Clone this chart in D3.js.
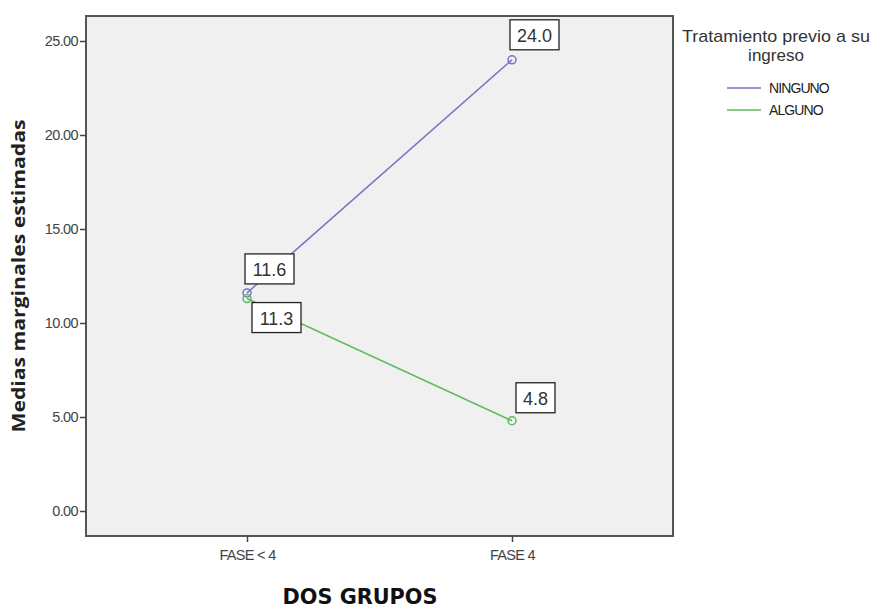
<!DOCTYPE html>
<html><head><meta charset="utf-8">
<script src="https://cdn.jsdelivr.net/npm/d3@7"></script>
<style>body{margin:0;background:#fff;font-family:Arial,"Liberation Sans",sans-serif;}</style>
</head><body>
<svg id="c" width="883" height="612"></svg>
<script>
const categories = ["FASE < 4", "FASE 4"];
const seriesNames = ["NINGUNO", "ALGUNO"];
const ninguno = [11.6, 24.0];
const alguno = [11.3, 4.8];
const yTicks = [0, 5, 10, 15, 20, 25];
const colors = ["#7676c4", "#5cba5c"];

const svg = d3.select("#c");
const L = 86, R = 673, T = 16, B = 536;
const x = d3.scalePoint().domain(categories).range([247, 512]);
const y = d3.scaleLinear().domain([0, 25]).range([511, 41]);

svg.append("rect").attr("x", L).attr("y", T).attr("width", R - L).attr("height", B - T)
  .attr("fill", "#f0f0f0").attr("stroke", "#555").attr("stroke-width", 2);

const ya = svg.append("g").attr("transform", `translate(${L},0)`)
  .call(d3.axisLeft(y).tickValues(yTicks).tickFormat(d3.format(".2f")).tickSize(6).tickPadding(2));
ya.select(".domain").remove();
ya.selectAll("line").attr("stroke", "#444").attr("stroke-width", 1.5);
ya.selectAll("text").attr("font-size", 14.5).attr("fill", "#444").attr("letter-spacing", -0.6)
  .attr("font-family", "Arial, Liberation Sans, sans-serif");

const xa = svg.append("g").attr("transform", `translate(0,${B})`)
  .call(d3.axisBottom(x).tickSize(6).tickPadding(8));
xa.select(".domain").remove();
xa.selectAll("line").attr("stroke", "#444").attr("stroke-width", 1.5);
xa.selectAll("text").attr("font-size", 14.5).attr("fill", "#444").attr("letter-spacing", -0.7)
  .attr("font-family", "Arial, Liberation Sans, sans-serif");

svg.append("text").attr("x", 360).attr("y", 604).attr("text-anchor", "middle")
  .attr("font-size", 22).attr("font-weight", "bold").attr("fill", "#111")
  .attr("font-family", "DejaVu Sans Condensed, DejaVu Sans, sans-serif")
  .attr("textLength", 155).attr("lengthAdjust", "spacingAndGlyphs").text("DOS GRUPOS");

svg.append("text").attr("transform", "translate(25,276) rotate(-90)").attr("text-anchor", "middle")
  .attr("font-size", 18).attr("font-weight", "bold").attr("fill", "#222")
  .attr("font-family", "Open Sans, Arial, sans-serif")
  .attr("textLength", 313).attr("lengthAdjust", "spacingAndGlyphs")
  .text("Medias marginales estimadas");

const series = [ninguno, alguno];
// label offsets per series/point: [dx, dy] of box top-left relative to point
const boxOff = [[[-2, -39], [-2, -40]], [[5, 4], [4, -38]]];
series.forEach((vals, si) => {
  const line = d3.line().x((d, i) => x(categories[i])).y(d => y(d));
  svg.append("path").datum(vals).attr("d", line).attr("fill", "none")
    .attr("stroke", colors[si]).attr("stroke-width", 1.6);
  vals.forEach((v, i) => {
    svg.append("circle").attr("cx", x(categories[i])).attr("cy", y(v)).attr("r", 4)
      .attr("fill", "none").attr("stroke", colors[si]).attr("stroke-width", 1.5);
  });
});
series.forEach((vals, si) => {
  vals.forEach((v, i) => {
    const px = x(categories[i]), py = y(v);
    const [dx, dy] = boxOff[si][i];
    const txt = v.toFixed(1);
    const w = txt.length * 10 + 9, h = 30;
    svg.append("rect").attr("x", px + dx).attr("y", py + dy).attr("width", w).attr("height", h)
      .attr("fill", "#fff").attr("stroke", "#222").attr("stroke-width", 1.3);
    svg.append("text").attr("x", px + dx + w / 2).attr("y", py + dy + 22).attr("text-anchor", "middle")
      .attr("font-size", 18).attr("fill", "#333").text(txt);
  });
});

svg.append("text").attr("x", 776).attr("y", 42).attr("text-anchor", "middle")
  .attr("font-size", 17).attr("fill", "#333")
  .attr("textLength", 188).attr("lengthAdjust", "spacingAndGlyphs").text("Tratamiento previo a su");
svg.append("text").attr("x", 776).attr("y", 61).attr("text-anchor", "middle")
  .attr("font-size", 17).attr("fill", "#333").text("ingreso");
seriesNames.forEach((n, i) => {
  const ly = 88 + i * 22;
  svg.append("line").attr("x1", 727).attr("x2", 761).attr("y1", ly).attr("y2", ly)
    .attr("stroke", colors[i]).attr("stroke-width", 1.6);
  svg.append("text").attr("x", 769).attr("y", ly + 5).attr("font-size", 14).attr("fill", "#222")
    .attr("letter-spacing", -0.9).text(n);
});
</script>
</body></html>
